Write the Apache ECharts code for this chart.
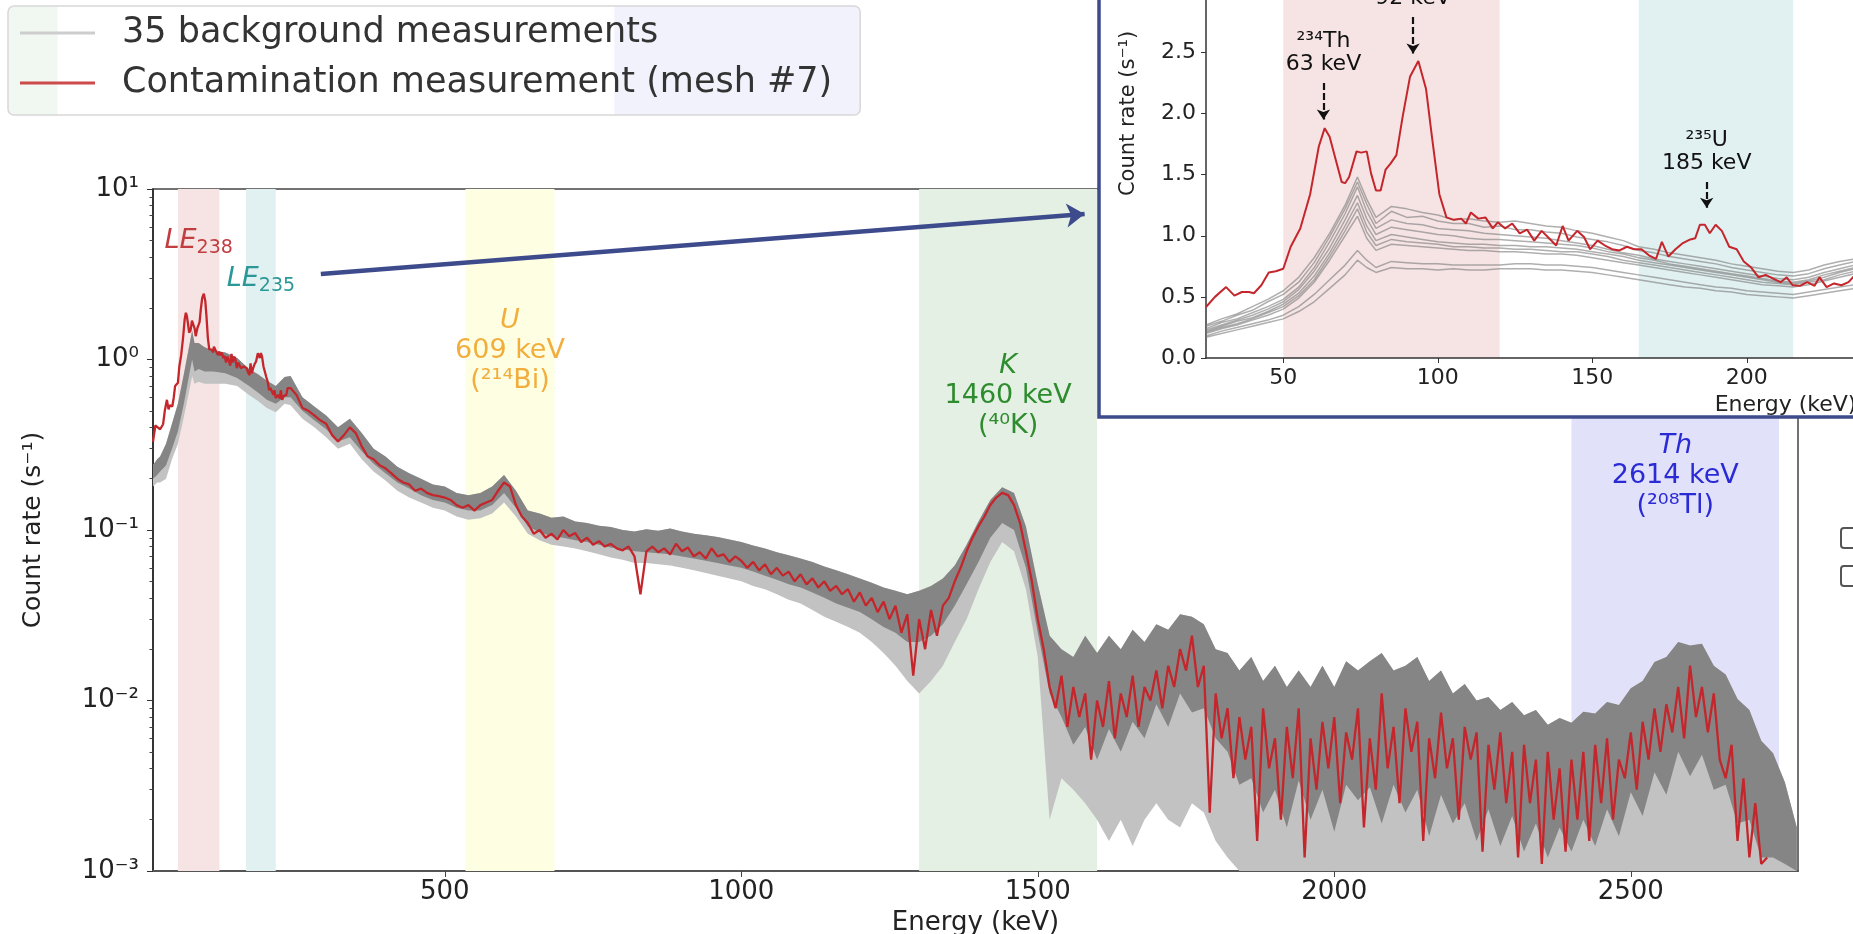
<!DOCTYPE html>
<html>
<head>
<meta charset="utf-8">
<script src="https://cdn.jsdelivr.net/npm/echarts@6/dist/echarts.min.js"></script>
<style>
html, body { margin: 0; padding: 0; background: #fff; }
#myChart { width: 1853px; height: 934px; }
</style>
</head>
<body>
<div id="myChart"></div>
<script>
var myChart = echarts.init(document.getElementById('myChart'));
var FONT = 'DejaVu Sans';
var NAME_BG = '35 background measurements';
var NAME_RED = 'Contamination measurement (mesh #7)';

// contamination spectrum, very low energies (keV / s^-1)
var redStartE = [8, 12, 16, 20];
var redStartRate = [0.33, 0.41, 0.40, 0.39];

// contamination spectrum 25-235 keV
var insetE = [25, 27.9, 31.5, 34.2, 36.6, 38.9, 40.5, 42.9, 45.3, 47.6,
    50, 52.4, 55.5, 58.7, 61.5, 63.4, 65, 67, 68.9, 70,
    71.3, 73.7, 75.2, 77, 78.4, 80, 81.5, 83.1, 84.7, 86.6,
    88.6, 91, 93.7, 96.2, 98.1, 100.5, 102.8, 105.2, 107.6, 109.1,
    110.7, 113.1, 115.4, 117.8, 119.4, 121.8, 124.1, 126.5, 128.9, 131.2,
    133.6, 136, 138.3, 140.4, 142.3, 145.1, 147.3, 149.3, 151.7, 154.1,
    156.4, 158.8, 161.2, 163.5, 165.9, 168.3, 170.6, 172.5, 174.6, 176.9,
    179.3, 181.7, 183.3, 184.8, 186.4, 188, 189.9, 191.9, 194.3, 196.7,
    199, 201.4, 203.8, 206.1, 208.5, 210.9, 212.9, 214.8, 217.2, 219.5,
    221.9, 223.5, 225.8, 228.2, 230.6, 232.9, 235];
var insetRed = [0.417, 0.50, 0.58, 0.51, 0.54, 0.54, 0.53, 0.595, 0.70, 0.71,
    0.73, 0.91, 1.06, 1.34, 1.73, 1.88, 1.81, 1.62, 1.44, 1.43,
    1.48, 1.69, 1.68, 1.69, 1.51, 1.37, 1.37, 1.54, 1.59, 1.66,
    1.97, 2.30, 2.43, 2.20, 1.81, 1.34, 1.15, 1.13, 1.14, 1.10,
    1.19, 1.14, 1.15, 1.06, 1.11, 1.06, 1.10, 1.02, 1.05, 0.96,
    1.04, 0.98, 0.92, 1.08, 0.96, 1.04, 0.99, 0.89, 0.96, 0.92,
    0.89, 0.88, 0.91, 0.89, 0.89, 0.84, 0.81, 0.95, 0.83, 0.89,
    0.94, 0.97, 0.98, 1.09, 1.09, 1.02, 1.09, 1.04, 0.91, 0.89,
    0.79, 0.74, 0.66, 0.68, 0.65, 0.62, 0.66, 0.595, 0.59, 0.62,
    0.59, 0.66, 0.58, 0.61, 0.595, 0.62, 0.68];

// contamination spectrum 240-2730 keV, 10 keV bins
var redHighStart = 240, redHighStep = 10;
var redHigh = [
    0.68, 0.62, 0.52, 0.50, 0.47, 0.44, 0.42, 0.36, 0.33, 0.36,
    0.40, 0.37, 0.31, 0.27, 0.26, 0.24, 0.23, 0.215, 0.20, 0.19,
    0.185, 0.17, 0.175, 0.165, 0.16, 0.158, 0.155, 0.15, 0.14, 0.135,
    0.14, 0.13, 0.14, 0.145, 0.15, 0.17, 0.19, 0.18, 0.14, 0.12,
    0.11, 0.095, 0.10, 0.09, 0.095, 0.088, 0.10, 0.092, 0.096, 0.085,
    0.09, 0.082, 0.086, 0.08, 0.083, 0.078, 0.076, 0.08, 0.07, 0.042,
    0.075, 0.08, 0.074, 0.078, 0.072, 0.083, 0.075, 0.079, 0.07, 0.074,
    0.068, 0.078, 0.07, 0.072, 0.065, 0.07, 0.066, 0.06, 0.065, 0.058,
    0.063, 0.055, 0.06, 0.054, 0.057, 0.05, 0.055, 0.048, 0.052, 0.046,
    0.05, 0.044, 0.047, 0.042, 0.045, 0.038, 0.043, 0.036, 0.04, 0.033,
    0.038, 0.03, 0.036, 0.025, 0.032, 0.014, 0.03, 0.02, 0.034, 0.024,
    0.036, 0.04, 0.05, 0.06, 0.075, 0.09, 0.105, 0.12, 0.14, 0.155,
    0.165, 0.16, 0.14, 0.11, 0.075, 0.05, 0.03, 0.02, 0.012, 0.009,
    0.014, 0.007, 0.012, 0.008, 0.011, 0.0045, 0.01, 0.007, 0.013, 0.006,
    0.011, 0.008, 0.014, 0.007, 0.012, 0.01, 0.015, 0.009, 0.016, 0.012,
    0.02, 0.015, 0.024, 0.012, 0.016, 0.0022, 0.011, 0.006, 0.009, 0.0035,
    0.008, 0.0045, 0.007, 0.0015, 0.009, 0.004, 0.006, 0.002, 0.007, 0.0035,
    0.009, 0.0012, 0.006, 0.003, 0.0075, 0.004, 0.008, 0.0025, 0.0065, 0.0045,
    0.009, 0.0018, 0.006, 0.003, 0.011, 0.004, 0.007, 0.0025, 0.009, 0.005,
    0.0075, 0.0015, 0.006, 0.0035, 0.0085, 0.004, 0.006, 0.002, 0.007, 0.0045,
    0.0065, 0.0013, 0.0055, 0.003, 0.0065, 0.0025, 0.005, 0.0012, 0.0055, 0.0025,
    0.0045, 0.0011, 0.005, 0.002, 0.004, 0.0013, 0.0045, 0.002, 0.005, 0.0015,
    0.0055, 0.0025, 0.006, 0.002, 0.0045, 0.0035, 0.0065, 0.003, 0.0075, 0.0045,
    0.009, 0.005, 0.0095, 0.0065, 0.012, 0.006, 0.016, 0.008, 0.012, 0.0065,
    0.011, 0.0045, 0.0035, 0.0055, 0.0015, 0.0035, 0.0012, 0.0025, 0.0011, 0.0012];

// background spread (35 spectra): top edge, lower edge of dense core, lowest excursions
var bgLowE = [8, 15, 20, 30, 40, 50, 60, 70, 74, 78, 85, 95, 110, 130, 150, 170, 185, 200, 215, 230, 240];
var bgStepStart = 260, bgStep = 20;
var bgHi = [0.24, 0.26, 0.27, 0.32, 0.42, 0.55, 0.82, 1.25, 1.48, 1.25, 1.25, 1.18, 1.13, 1.10, 1.02, 0.88, 0.82, 0.75, 0.70, 0.79, 0.80,
    0.60, 0.53, 0.47, 0.40, 0.45, 0.37, 0.30, 0.27, 0.235, 0.215,
    0.20, 0.185, 0.18, 0.165, 0.16, 0.165, 0.18, 0.21, 0.17, 0.13,
    0.125, 0.118, 0.12, 0.112, 0.11, 0.106, 0.104, 0.10, 0.098, 0.101,
    0.099, 0.102, 0.098, 0.095, 0.093, 0.091, 0.088, 0.085, 0.081, 0.078,
    0.074, 0.071, 0.068, 0.065, 0.061, 0.058, 0.055, 0.052, 0.049, 0.046,
    0.044, 0.042, 0.044, 0.047, 0.052, 0.062, 0.082, 0.112, 0.15, 0.178,
    0.165, 0.105, 0.048, 0.024, 0.02, 0.018, 0.024, 0.019, 0.024, 0.02,
    0.026, 0.022, 0.028, 0.026, 0.032, 0.031, 0.028, 0.02, 0.019, 0.015,
    0.018, 0.013, 0.016, 0.012, 0.015, 0.012, 0.016, 0.012, 0.017, 0.015,
    0.017, 0.019, 0.015, 0.016, 0.018, 0.013, 0.015, 0.011, 0.0125, 0.010,
    0.0105, 0.0088, 0.0098, 0.0082, 0.0088, 0.0072, 0.0079, 0.0074, 0.0086, 0.0084,
    0.0098, 0.0094, 0.0118, 0.013, 0.0168, 0.018, 0.022, 0.021, 0.0215, 0.016,
    0.0142, 0.0102, 0.0088, 0.0058, 0.0049, 0.0033, 0.0018];
var bgMid = [0.20, 0.21, 0.22, 0.24, 0.30, 0.38, 0.55, 0.85, 1.0, 0.85, 0.88, 0.85, 0.85, 0.83, 0.78, 0.70, 0.64, 0.58, 0.55, 0.60, 0.60,
    0.50, 0.44, 0.39, 0.33, 0.35, 0.29, 0.245, 0.215, 0.19, 0.175,
    0.16, 0.15, 0.145, 0.135, 0.13, 0.13, 0.14, 0.165, 0.135, 0.105,
    0.097, 0.092, 0.09, 0.087, 0.085, 0.082, 0.079, 0.077, 0.075, 0.074,
    0.073, 0.072, 0.07, 0.068, 0.066, 0.064, 0.062, 0.06, 0.057, 0.054,
    0.051, 0.048, 0.046, 0.043, 0.04, 0.037, 0.035, 0.033, 0.03, 0.027,
    0.025, 0.022, 0.022, 0.024, 0.028, 0.036, 0.048, 0.065, 0.09, 0.11,
    0.10, 0.06, 0.025, 0.011, 0.008, 0.0055, 0.007, 0.0045, 0.0068, 0.005,
    0.0075, 0.006, 0.0095, 0.007, 0.011, 0.0085, 0.009, 0.006, 0.005, 0.0032,
    0.0035, 0.0022, 0.003, 0.0018, 0.0034, 0.002, 0.003, 0.0017, 0.0032, 0.0026,
    0.0031, 0.0019, 0.0032, 0.0022, 0.003, 0.0016, 0.0028, 0.0019, 0.0025, 0.0015,
    0.0023, 0.0014, 0.0021, 0.0013, 0.0019, 0.0012, 0.0018, 0.0013, 0.002, 0.0014,
    0.0023, 0.0016, 0.0029, 0.0021, 0.0038, 0.0028, 0.005, 0.0036, 0.0048, 0.003,
    0.0032, 0.0019, 0.002, 0.0012, 0.0012, 0.0011, 0.001];
var bgLo = [0.18, 0.19, 0.19, 0.20, 0.26, 0.32, 0.46, 0.68, 0.80, 0.72, 0.74, 0.72, 0.72, 0.72, 0.70, 0.62, 0.57, 0.52, 0.49, 0.55, 0.54,
    0.45, 0.40, 0.35, 0.30, 0.32, 0.26, 0.22, 0.195, 0.17, 0.155,
    0.145, 0.135, 0.13, 0.12, 0.115, 0.117, 0.125, 0.145, 0.12, 0.095,
    0.087, 0.082, 0.08, 0.078, 0.075, 0.072, 0.069, 0.067, 0.064, 0.064,
    0.063, 0.062, 0.06, 0.058, 0.056, 0.054, 0.052, 0.05, 0.047, 0.045,
    0.042, 0.039, 0.037, 0.034, 0.031, 0.029, 0.027, 0.025, 0.022, 0.019,
    0.016, 0.013, 0.011, 0.013, 0.016, 0.022, 0.03, 0.045, 0.065, 0.085,
    0.075, 0.045, 0.018, 0.002, 0.0035, 0.003, 0.0025, 0.002, 0.0015, 0.002,
    0.0014, 0.002, 0.0025, 0.002, 0.0018, 0.0025, 0.0022, 0.0015, 0.0012, 0.001,
    0.001, 0.001, 0.001, 0.001, 0.001, 0.001, 0.001, 0.001, 0.001, 0.001,
    0.001, 0.001, 0.001, 0.001, 0.001, 0.001, 0.001, 0.001, 0.001, 0.001,
    0.001, 0.001, 0.001, 0.001, 0.001, 0.001, 0.001, 0.001, 0.001, 0.001,
    0.001, 0.001, 0.001, 0.001, 0.001, 0.001, 0.001, 0.001, 0.001, 0.001,
    0.001, 0.001, 0.001, 0.001, 0.001, 0.001, 0.001];

// a few of the background spectra in the inset (25-235 keV)
var grayE = [25, 30, 35, 40, 45, 50, 55, 60, 65, 70, 74, 77, 80, 85, 90, 95, 100, 105, 110, 115, 120, 125,
    130, 135, 140, 145, 150, 155, 160, 165, 170, 175, 180, 185, 190, 195, 200, 205, 210, 215, 220, 225, 230, 235];
var grayLines = [
    [0.27, 0.32, 0.36, 0.42, 0.48, 0.55, 0.66, 0.82, 1.02, 1.25, 1.48, 1.30, 1.15, 1.24, 1.22, 1.19, 1.17, 1.13, 1.14, 1.12, 1.11, 1.12,
     1.10, 1.08, 1.07, 1.04, 1.02, 0.99, 0.96, 0.91, 0.89, 0.86, 0.84, 0.82, 0.80, 0.77, 0.75, 0.73, 0.71, 0.70, 0.72, 0.76, 0.79, 0.81],
    [0.26, 0.30, 0.35, 0.39, 0.46, 0.52, 0.62, 0.78, 0.99, 1.22, 1.44, 1.26, 1.10, 1.20, 1.15, 1.16, 1.12, 1.10, 1.10, 1.07, 1.08, 1.05,
     1.05, 1.03, 1.02, 0.99, 0.97, 0.95, 0.92, 0.88, 0.86, 0.83, 0.81, 0.79, 0.77, 0.74, 0.72, 0.70, 0.68, 0.67, 0.69, 0.73, 0.76, 0.79],
    [0.24, 0.29, 0.32, 0.37, 0.42, 0.48, 0.58, 0.74, 0.95, 1.18, 1.40, 1.20, 1.06, 1.13, 1.10, 1.09, 1.06, 1.05, 1.04, 1.02, 1.01, 1.00,
     0.99, 0.98, 0.96, 0.94, 0.92, 0.89, 0.86, 0.84, 0.81, 0.79, 0.77, 0.75, 0.73, 0.71, 0.69, 0.67, 0.65, 0.64, 0.66, 0.70, 0.73, 0.76],
    [0.23, 0.27, 0.31, 0.35, 0.40, 0.46, 0.56, 0.71, 0.90, 1.13, 1.33, 1.14, 1.01, 1.07, 1.05, 1.03, 1.01, 1.00, 0.98, 0.97, 0.97, 0.96,
     0.95, 0.94, 0.93, 0.92, 0.90, 0.87, 0.85, 0.82, 0.80, 0.77, 0.75, 0.73, 0.71, 0.69, 0.67, 0.65, 0.63, 0.62, 0.64, 0.68, 0.71, 0.74],
    [0.22, 0.26, 0.30, 0.33, 0.38, 0.44, 0.53, 0.67, 0.86, 1.08, 1.27, 1.08, 0.96, 1.01, 0.99, 0.97, 0.95, 0.94, 0.93, 0.93, 0.92, 0.92,
     0.91, 0.91, 0.90, 0.89, 0.87, 0.85, 0.83, 0.80, 0.78, 0.76, 0.74, 0.72, 0.70, 0.68, 0.66, 0.64, 0.62, 0.61, 0.63, 0.66, 0.70, 0.73],
    [0.21, 0.25, 0.28, 0.32, 0.37, 0.42, 0.51, 0.64, 0.83, 1.04, 1.22, 1.03, 0.92, 0.97, 0.95, 0.94, 0.93, 0.91, 0.91, 0.90, 0.90, 0.89,
     0.89, 0.88, 0.87, 0.87, 0.85, 0.83, 0.80, 0.78, 0.76, 0.74, 0.72, 0.70, 0.68, 0.66, 0.64, 0.62, 0.61, 0.60, 0.62, 0.64, 0.68, 0.71],
    [0.20, 0.24, 0.27, 0.31, 0.35, 0.40, 0.49, 0.62, 0.80, 1.00, 1.16, 0.98, 0.88, 0.93, 0.92, 0.91, 0.90, 0.89, 0.88, 0.88, 0.87, 0.87,
     0.86, 0.85, 0.85, 0.84, 0.82, 0.80, 0.78, 0.76, 0.74, 0.72, 0.70, 0.68, 0.66, 0.64, 0.62, 0.60, 0.59, 0.58, 0.60, 0.63, 0.66, 0.69],
    [0.18, 0.22, 0.25, 0.28, 0.31, 0.35, 0.42, 0.52, 0.64, 0.76, 0.88, 0.80, 0.74, 0.79, 0.78, 0.77, 0.77, 0.76, 0.76, 0.76, 0.76, 0.77,
     0.77, 0.76, 0.76, 0.75, 0.74, 0.72, 0.70, 0.68, 0.66, 0.64, 0.62, 0.60, 0.58, 0.57, 0.55, 0.54, 0.53, 0.52, 0.54, 0.56, 0.58, 0.60],
    [0.17, 0.20, 0.23, 0.26, 0.29, 0.32, 0.38, 0.46, 0.57, 0.68, 0.80, 0.74, 0.70, 0.74, 0.73, 0.73, 0.72, 0.73, 0.72, 0.72, 0.73, 0.73,
     0.73, 0.72, 0.72, 0.71, 0.70, 0.68, 0.66, 0.64, 0.62, 0.60, 0.58, 0.57, 0.55, 0.54, 0.52, 0.51, 0.50, 0.49, 0.51, 0.53, 0.55, 0.57]
];

// energy windows (keV)
var bandStart = [50, 165, 535, 1300, 2400];
var bandEnd = [120, 215, 685, 1600, 2750];
var bandText = ['{i|LE}{s|238}', '{i|LE}{s|235}', '{i|U}\n609 keV\n(²¹⁴Bi)', '{i|K}\n1460 keV\n(⁴⁰K)', '{i|Th}\n2614 keV\n(²⁰⁸Tl)'];
var bandFill = ['#f6e4e4', '#e1f0f0', '#fefee3', '#e3f0e3', '#e1e1fa'];
var bandColor = ['#c23d40', '#2a9898', '#f2ae3c', '#2e8b2e', '#2b2bd6'];
var bandLabelTop = [226, 264, 306, 351, 431];

// peak markers in the inset: [energy, arrow top, arrow tip, text]
var peakE = [63, 92, 187];
var peakTop = [2.25, 2.79, 1.44];
var peakTip = [1.95, 2.49, 1.23];
var peakText = ['²³⁴Th\n63 keV', '²³⁴Th\n92 keV', '²³⁵U\n185 keV'];

var mainTicks = [500, 1000, 1500, 2000, 2500];
var insetTicks = [50, 100, 150, 200, 250, 300, 350, 400];

// ---------- build series data ----------
function zip(xs, ys) {
    var res = [];
    for (var i = 0; i < xs.length; i++) res.push([xs[i], ys[i]]);
    return res;
}
var redMain = zip(redStartE, redStartRate).concat(zip(insetE, insetRed));
for (var i = 0; i < redHigh.length; i++) redMain.push([redHighStart + i * redHighStep, redHigh[i]]);

var bgE = bgLowE.slice();
for (var e = bgStepStart; bgE.length < bgHi.length; e += bgStep) bgE.push(e);

var minorTicks = [];
for (var d = -3; d < 1; d++) {
    for (var m = 2; m < 10; m++) minorTicks.push(m * Math.pow(10, d));
}

var supMap = {'-': '⁻', '0': '⁰', '1': '¹', '2': '²', '3': '³'};
function pow10Label(v) {
    var ex = String(Math.round(Math.log(v) / Math.LN10));
    var s = '';
    for (var k = 0; k < ex.length; k++) s += supMap[ex[k]];
    return '10' + s;
}
function plainLabel(v) {
    return String(v);
}

function spreadRender(lo, fill) {
    return function (params, api) {
        var pts = [];
        for (var i = 0; i < bgE.length; i++) pts.push(api.coord([bgE[i], bgHi[i]]));
        for (var j = bgE.length - 1; j >= 0; j--) pts.push(api.coord([bgE[j], lo[j]]));
        return {type: 'polygon', shape: {points: pts}, style: {fill: fill}};
    };
}

function bandRender(withText, yTop, yBottom) {
    return function (params, api) {
        var i = params.dataIndex;
        var p0 = api.coord([api.value(0), yTop]);
        var p1 = api.coord([api.value(1), yBottom]);
        var children = [{
            type: 'rect',
            shape: {x: p0[0], y: p0[1], width: p1[0] - p0[0], height: p1[1] - p0[1]},
            style: {fill: bandFill[i]}
        }];
        if (withText) {
            children.push({
                type: 'text',
                style: {
                    text: bandText[i],
                    x: (p0[0] + p1[0]) / 2,
                    y: bandLabelTop[i],
                    align: 'center',
                    verticalAlign: 'top',
                    fill: bandColor[i],
                    fontFamily: FONT,
                    fontSize: 27,
                    lineHeight: 30,
                    rich: {
                        i: {fontStyle: 'italic', fontFamily: FONT, fontSize: 27, lineHeight: 30, fill: bandColor[i]},
                        s: {fontFamily: FONT, fontSize: 19, lineHeight: 30, padding: [14, 0, 0, 0], fill: bandColor[i]}
                    }
                }
            });
        }
        return {type: 'group', children: children};
    };
}

var insetSeries = [];
for (var g = 0; g < grayLines.length; g++) {
    insetSeries.push({
        name: NAME_BG,
        type: 'line',
        xAxisIndex: 1,
        yAxisIndex: 2,
        z: 61,
        data: zip(grayE, grayLines[g]),
        showSymbol: false,
        silent: true,
        lineStyle: {color: '#7a7a7a', width: 1.5, opacity: 0.6}
    });
}

var peakLines = [];
for (var p = 0; p < peakE.length; p++) {
    peakLines.push([
        {coord: [peakE[p], peakTop[p]], label: {formatter: peakText[p]}},
        {coord: [peakE[p], peakTip[p]]}
    ]);
}

option = {
    animation: false,
    backgroundColor: '#fff',
    legend: {
        left: 8,
        top: 6,
        orient: 'vertical',
        selectedMode: false,
        itemGap: 10,
        itemWidth: 75,
        itemHeight: 3,
        padding: [7, 28, 12, 12],
        backgroundColor: new echarts.graphic.LinearGradient(0, 0, 1, 0, [
            {offset: 0, color: '#f1f7f1'}, {offset: 0.058, color: '#f1f7f1'},
            {offset: 0.06, color: '#ffffff'}, {offset: 0.71, color: '#ffffff'},
            {offset: 0.712, color: '#f2f2fc'}, {offset: 1, color: '#f2f2fc'}
        ]),
        borderColor: '#d8d8d8',
        borderWidth: 1.5,
        borderRadius: 6,
        textStyle: {fontFamily: FONT, fontSize: 35, color: '#333', lineHeight: 40, padding: [0, 0, 0, 22]},
        data: [
            {name: NAME_BG, icon: 'rect', itemStyle: {color: '#cdcdcd'}},
            {name: NAME_RED, icon: 'rect', itemStyle: {color: '#cc4a4a'}}
        ]
    },
    grid: [
        {left: 153, top: 189, right: 55, bottom: 63, outerBoundsMode: 'none', containLabel: false,
            show: true, borderColor: '#444', borderWidth: 1.5, backgroundColor: 'transparent'},
        {left: 1206, top: -131, width: 1159, height: 489, outerBoundsMode: 'none', containLabel: false}
    ],
    xAxis: [
        {
            type: 'value', gridIndex: 0, min: 8, max: 2782,
            name: 'Energy (keV)', nameLocation: 'middle', nameGap: 23,
            nameTextStyle: {fontFamily: FONT, fontSize: 26, color: '#222'},
            axisLine: {onZero: false, lineStyle: {color: '#555', width: 2}},
            axisTick: {customValues: mainTicks, length: 6, lineStyle: {color: '#444'}},
            axisLabel: {customValues: mainTicks, formatter: plainLabel, fontFamily: FONT, fontSize: 26, color: '#222', margin: 8},
            splitLine: {show: false}
        },
        {
            type: 'value', gridIndex: 1, min: 25, max: 400, z: 60,
            name: 'Energy (keV)', nameLocation: 'middle', nameGap: 28,
            nameTextStyle: {fontFamily: FONT, fontSize: 22, color: '#222'},
            axisLine: {onZero: false, lineStyle: {color: '#333', width: 1.5}},
            axisTick: {customValues: insetTicks, length: 5, lineStyle: {color: '#333'}},
            axisLabel: {customValues: insetTicks, formatter: plainLabel, fontFamily: FONT, fontSize: 22, color: '#222', margin: 9},
            splitLine: {show: false}
        }
    ],
    yAxis: [
        {
            type: 'log', logBase: 10, gridIndex: 0, min: 0.001, max: 10, position: 'left',
            name: 'Count rate (s⁻¹)', nameLocation: 'middle', nameGap: 107,
            nameTextStyle: {fontFamily: FONT, fontSize: 25, color: '#222'},
            axisLine: {show: true, lineStyle: {color: '#222', width: 1.5}},
            axisTick: {show: true, length: 6, lineStyle: {color: '#333'}},
            axisLabel: {formatter: pow10Label, fontFamily: FONT, fontSize: 26, color: '#222', margin: 14},
            splitLine: {show: false}
        },
        {
            type: 'log', logBase: 10, gridIndex: 0, min: 0.001, max: 10, position: 'left',
            axisLine: {show: false},
            axisTick: {show: true, customValues: minorTicks, length: 3.5, lineStyle: {color: '#444'}},
            axisLabel: {show: false},
            splitLine: {show: false}
        },
        {
            type: 'value', gridIndex: 1, min: 0, max: 4, interval: 0.5, z: 60,
            name: 'Count rate (s⁻¹)', nameLocation: 'middle', nameGap: 67,
            nameTextStyle: {fontFamily: FONT, fontSize: 21, color: '#222'},
            axisLine: {show: true, lineStyle: {color: '#333', width: 1.5}},
            axisTick: {show: true, length: 5, lineStyle: {color: '#333'}},
            axisLabel: {formatter: function (v) { return v.toFixed(1); }, fontFamily: FONT, fontSize: 22, color: '#222', margin: 10},
            splitLine: {show: false}
        }
    ],
    graphic: [
        // inset frame
        {type: 'rect', z: 50, shape: {x: 1099, y: -10, width: 800, height: 427},
            style: {fill: '#fff', stroke: '#3d4b8c', lineWidth: 3.5}},
        // stray check boxes on the right edge of the source figure
        {type: 'rect', z: 50, shape: {x: 1841, y: 528, width: 20, height: 20, r: 3},
            style: {fill: '#fff', stroke: '#555', lineWidth: 2}},
        {type: 'rect', z: 50, shape: {x: 1841, y: 566, width: 20, height: 20, r: 3},
            style: {fill: '#fff', stroke: '#555', lineWidth: 2}}
    ],
    series: [
        {
            type: 'custom', xAxisIndex: 0, yAxisIndex: 0, z: 1, silent: true,
            data: zip(bandStart, bandEnd),
            renderItem: bandRender(true, 10, 0.001)
        },
        {
            name: NAME_BG, type: 'custom', xAxisIndex: 0, yAxisIndex: 0, z: 2, silent: true,
            itemStyle: {color: '#cdcdcd'},
            data: [[bgE[0], bgHi[0]]],
            renderItem: spreadRender(bgLo, '#c2c2c2')
        },
        {
            name: NAME_BG, type: 'custom', xAxisIndex: 0, yAxisIndex: 0, z: 2, silent: true,
            itemStyle: {color: '#cdcdcd'},
            data: [[bgE[0], bgHi[0]]],
            renderItem: spreadRender(bgMid, '#858585')
        },
        {
            name: NAME_RED, type: 'line', xAxisIndex: 0, yAxisIndex: 0, z: 3,
            data: redMain, showSymbol: false, silent: true,
            lineStyle: {color: '#c4262c', width: 2.3},
            markLine: {
                z: 10, silent: true, symbol: ['none', 'arrow'], symbolSize: 18,
                label: {show: false},
                lineStyle: {color: '#3d4b8c', width: 4.5, type: 'solid'},
                data: [[{coord: [291, 3.17]}, {coord: [1579, 7.13]}]]
            }
        },
        {
            type: 'custom', xAxisIndex: 1, yAxisIndex: 2, z: 55, silent: true,
            data: zip(bandStart.slice(0, 2), bandEnd.slice(0, 2)),
            renderItem: bandRender(false, 4, 0)
        }
    ].concat(insetSeries).concat([
        {
            name: NAME_RED, type: 'line', xAxisIndex: 1, yAxisIndex: 2, z: 62,
            data: zip(insetE, insetRed), showSymbol: false, silent: true,
            lineStyle: {color: '#c4262c', width: 2},
            markLine: {
                z: 70, silent: true, symbol: ['none', 'arrow'], symbolSize: 10,
                lineStyle: {color: '#111', width: 2.2, type: [7, 3]},
                label: {show: true, position: 'start', distance: 7, fontFamily: FONT, fontSize: 22, lineHeight: 23, color: '#111'},
                data: peakLines
            }
        }
    ])
};

myChart.setOption(option);
</script>
</body>
</html>
